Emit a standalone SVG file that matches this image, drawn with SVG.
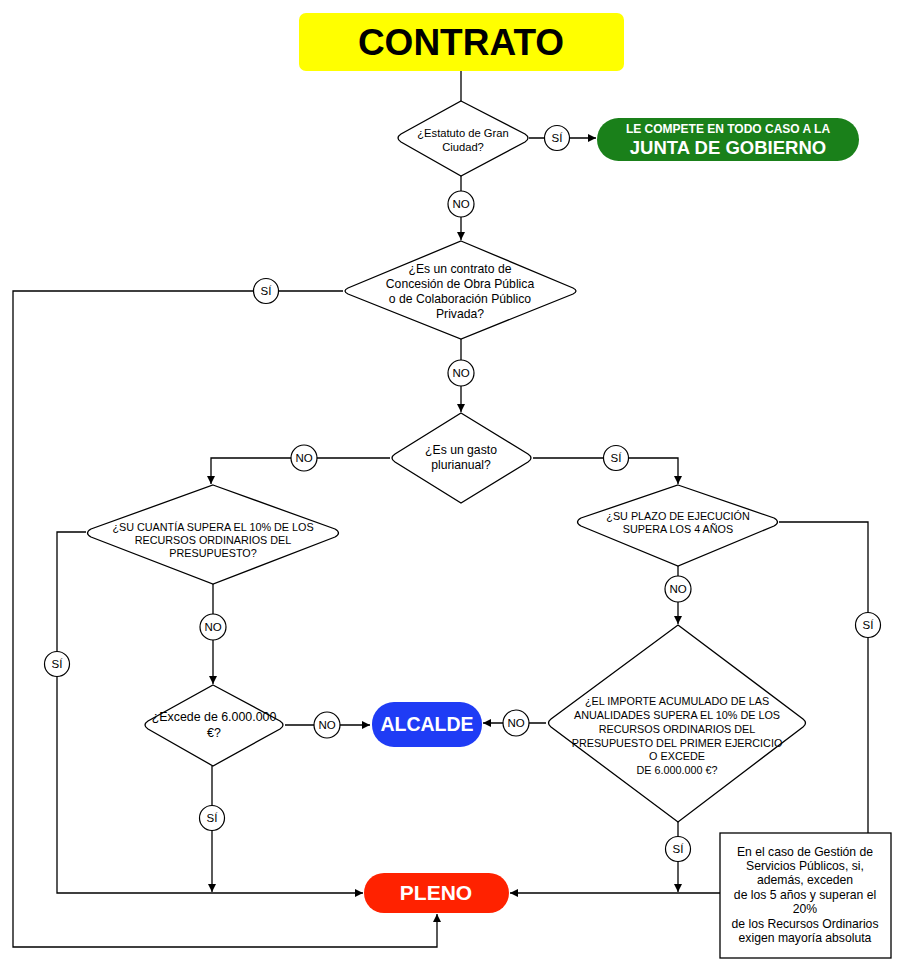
<svg xmlns="http://www.w3.org/2000/svg" width="902" height="968" viewBox="0 0 902 968">
<defs>
<marker id="arr" viewBox="0 0 10 10" refX="10" refY="5" markerWidth="8" markerHeight="8" markerUnits="userSpaceOnUse" orient="auto">
<path d="M0,0 L10,5 L0,10 Z" fill="#000"/>
</marker>
</defs>
<style>
text{font-family:"Liberation Sans",Arial,sans-serif;text-anchor:middle;fill:#000}
.dia{fill:#fff;stroke:#000;stroke-width:1.3}
.ln{fill:none;stroke:#000;stroke-width:1.3}
.ar{marker-end:url(#arr)}
.lbl circle{fill:#fff;stroke:#000;stroke-width:1.2}
.lbl text{font-size:11.5px}
.q{font-size:12.2px}
.cap{font-size:10.8px}
.nt{font-size:12.2px}
.term{font-weight:bold;fill:#fff}
</style>
<rect width="902" height="968" fill="#fff"/>

<g id="connectors">
<path class="ln" d="M461,71 V102"/>
<path class="ln ar" d="M529,138 H596"/>
<path class="ln ar" d="M461,176 V240"/>
<path class="ln ar" d="M343,291 H13 V947 H437 V914"/>
<path class="ln ar" d="M461,339 V412"/>
<path class="ln ar" d="M390,458 H211 V484"/>
<path class="ln ar" d="M533,458 H678 V484"/>
<path class="ln ar" d="M86,532 H57 V893 H363"/>
<path class="ln ar" d="M213,584 V684"/>
<path class="ln ar" d="M285,725 H370"/>
<path class="ln ar" d="M212,766 V892"/>
<path class="ln" d="M779,522 H868 V833"/>
<path class="ln ar" d="M678,566 V624"/>
<path class="ln ar" d="M546,723 H483"/>
<path class="ln ar" d="M678,822 V892"/>
<path class="ln ar" d="M720,893 H510"/>
</g>

<g id="labels" class="lbl">
<circle cx="557" cy="138" r="12.5"/><text x="557" y="142">SÍ</text>
<circle cx="461" cy="204" r="13"/><text x="461" y="208">NO</text>
<circle cx="266" cy="291" r="12.5"/><text x="266" y="295">SÍ</text>
<circle cx="461" cy="373" r="13"/><text x="461" y="377">NO</text>
<circle cx="304" cy="458" r="13"/><text x="304" y="462">NO</text>
<circle cx="616" cy="458" r="12.5"/><text x="616" y="462">SÍ</text>
<circle cx="57" cy="664" r="12.5"/><text x="57" y="668">SÍ</text>
<circle cx="213" cy="627" r="13"/><text x="213" y="631">NO</text>
<circle cx="327" cy="725" r="13"/><text x="327" y="729">NO</text>
<circle cx="212" cy="818" r="12.5"/><text x="212" y="822">SÍ</text>
<circle cx="868" cy="625" r="12.5"/><text x="868" y="629">SÍ</text>
<circle cx="678" cy="589" r="13"/><text x="678" y="593">NO</text>
<circle cx="516" cy="723" r="13"/><text x="516" y="727">NO</text>
<circle cx="678" cy="849" r="12.5"/><text x="678" y="853">SÍ</text>
</g>

<g id="contrato">
<rect x="299" y="13" width="325" height="58" rx="7" fill="#ffff00"/>
<text x="461" y="55" style="font-size:37px;font-weight:bold">CONTRATO</text>
</g>

<g id="gran-ciudad">
<path class="dia" d="M461,101 L525,134 Q531,138 525,142 L461,176 L401,142 Q395,138 401,134 Z"/>
<text x="463" y="137" style="font-size:11.2px">¿Estatuto de Gran</text>
<text x="463" y="151" style="font-size:11.2px">Ciudad?</text>
</g>

<g id="junta">
<rect x="597" y="118" width="262" height="43" rx="21.5" fill="#1a801a"/>
<text class="term" x="728" y="133" style="font-size:12px">LE COMPETE EN TODO CASO A LA</text>
<text class="term" x="728" y="154" style="font-size:18.5px">JUNTA DE GOBIERNO</text>
</g>

<g id="concesion">
<path class="dia" d="M461,241 L573,288 Q579,291 573,294 L461,339 L348,294 Q342,291 348,288 Z"/>
<text class="q" x="460" y="273">¿Es un contrato de</text>
<text class="q" x="460" y="288">Concesión de Obra Pública</text>
<text class="q" x="460" y="303">o de Colaboración Público</text>
<text class="q" x="460" y="318">Privada?</text>
</g>

<g id="plurianual">
<path class="dia" d="M461,413 L528,454 Q534,458 528,462 L461,503 L395,462 Q389,458 395,454 Z"/>
<text class="q" x="461" y="454">¿Es un gasto</text>
<text class="q" x="461" y="469">plurianual?</text>
</g>

<g id="cuantia">
<path class="dia" d="M213,485 L335,529 Q342,533 335,537 L213,584 L91,537 Q84,533 91,529 Z"/>
<text class="cap" x="213" y="531">¿SU CUANTÍA SUPERA EL 10% DE LOS</text>
<text class="cap" x="213" y="544">RECURSOS ORDINARIOS DEL</text>
<text class="cap" x="213" y="557">PRESUPUESTO?</text>
</g>

<g id="excede">
<path class="dia" d="M213,685 L280,721 Q286,725 280,729 L213,766 L148,729 Q142,725 148,721 Z"/>
<text x="214" y="721" style="font-size:12.4px">¿Excede de 6.000.000</text>
<text x="214" y="737" style="font-size:12.4px">€?</text>
</g>

<g id="alcalde">
<rect x="372" y="702" width="110" height="45" rx="22" fill="#1f3cf5"/>
<text class="term" x="427" y="731" style="font-size:19.5px">ALCALDE</text>
</g>

<g id="plazo">
<path class="dia" d="M678,485 L774,518 Q781,522 774,526 L678,566 L581,526 Q574,522 581,518 Z"/>
<text class="cap" x="678" y="520">¿SU PLAZO DE EJECUCIÓN</text>
<text class="cap" x="678" y="533">SUPERA LOS 4 AÑOS</text>
</g>

<g id="importe">
<path class="dia" d="M678,625 L803,719 Q808,723 803,727 L678,822 L551,727 Q546,723 551,719 Z"/>
<text class="cap" x="677" y="705">¿EL IMPORTE ACUMULADO DE LAS</text>
<text class="cap" x="677" y="719">ANUALIDADES SUPERA EL 10% DE LOS</text>
<text class="cap" x="677" y="733">RECURSOS ORDINARIOS DEL</text>
<text class="cap" x="677" y="747">PRESUPUESTO DEL PRIMER EJERCICIO</text>
<text class="cap" x="677" y="760">O EXCEDE</text>
<text class="cap" x="677" y="774">DE 6.000.000 €?</text>
</g>

<g id="pleno">
<rect x="364" y="873" width="145" height="40" rx="20" fill="#ff2200"/>
<text class="term" x="436" y="900" style="font-size:21px">PLENO</text>
</g>

<g id="nota">
<rect x="720" y="833" width="171" height="125" fill="#fff" stroke="#000" stroke-width="1.3"/>
<text class="nt" x="805" y="856">En el caso de Gestión de</text>
<text class="nt" x="805" y="870">Servicios Públicos, si,</text>
<text class="nt" x="805" y="884">además, exceden</text>
<text class="nt" x="805" y="899">de los 5 años y superan el</text>
<text class="nt" x="805" y="913">20%</text>
<text class="nt" x="805" y="928">de los Recursos Ordinarios</text>
<text class="nt" x="805" y="942">exigen mayoría absoluta</text>
</g>
</svg>
